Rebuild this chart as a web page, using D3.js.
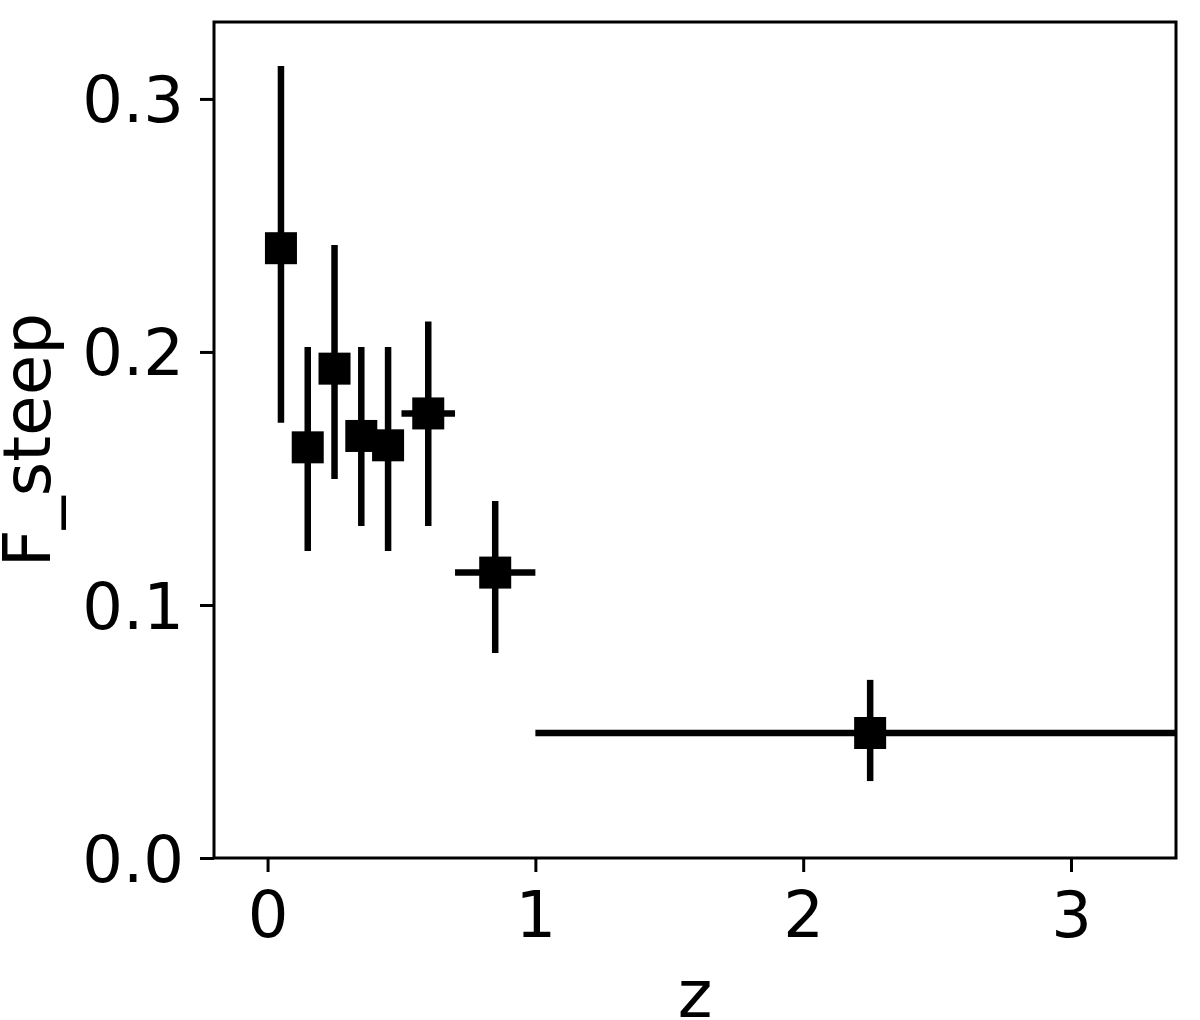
<!DOCTYPE html>
<html>
<head>
<meta charset="utf-8">
<script src="https://cdn.jsdelivr.net/npm/d3@7"></script>
<style>
  html, body { margin: 0; padding: 0; background: #fff; }
  svg { display: block; }
  text { font-family: "DejaVu Sans", sans-serif; fill: #000; }
</style>
</head>
<body>
<svg id="chart" width="1200" height="1020"></svg>
<script>
// ---- data ----
const zValues   = [0.05, 0.15, 0.25, 0.35, 0.45, 0.60, 0.85, 2.25];
const zLow      = [0.05, 0.15, 0.25, 0.35, 0.45, 0.50, 0.70, 1.00];
const zHigh     = [0.05, 0.15, 0.25, 0.35, 0.45, 0.70, 1.00, 3.50];
const fSteep    = [0.241, 0.1623, 0.1934, 0.1668, 0.1631, 0.1757, 0.1128, 0.0494];
const fLow      = [0.172, 0.1213, 0.1498, 0.1312, 0.1213, 0.1312, 0.0810, 0.0304];
const fHigh     = [0.313, 0.2020, 0.2423, 0.2020, 0.2020, 0.2120, 0.1411, 0.0704];
const xTicks    = [0, 1, 2, 3];
const yTicks    = [0.0, 0.1, 0.2, 0.3];
const xLabel    = "z";
const yLabel    = "F_steep";

// ---- layout ----
const svg = d3.select("#chart");
const L = 214, R = 1176, T = 22, B = 858;
const x = d3.scaleLinear().domain([-0.2, 3.392]).range([L, R]);
const y = d3.scaleLinear().domain([0, 0.3304]).range([B, T]);

svg.append("defs").append("clipPath").attr("id", "clip")
  .append("rect").attr("x", L).attr("y", T).attr("width", R - L).attr("height", B - T);

const pts = zValues.map((z, i) => ({z, zl: zLow[i], zh: zHigh[i], f: fSteep[i], fl: fLow[i], fh: fHigh[i]}));

const g = svg.append("g").attr("clip-path", "url(#clip)");
// vertical error bars
g.selectAll("line.ey").data(pts).enter().append("line")
  .attr("x1", d => x(d.z)).attr("x2", d => x(d.z))
  .attr("y1", d => y(d.fl)).attr("y2", d => y(d.fh))
  .attr("stroke", "#000").attr("stroke-width", 6.5);
// horizontal error bars
g.selectAll("line.ex").data(pts.filter(d => d.zh > d.zl)).enter().append("line")
  .attr("x1", d => x(d.zl)).attr("x2", d => x(d.zh))
  .attr("y1", d => y(d.f)).attr("y2", d => y(d.f))
  .attr("stroke", "#000").attr("stroke-width", 6.5);
// square markers
const ms = 32;
g.selectAll("rect.m").data(pts).enter().append("rect")
  .attr("x", d => x(d.z) - ms / 2).attr("y", d => y(d.f) - ms / 2)
  .attr("width", ms).attr("height", ms).attr("fill", "#000");

// axes
const xAxis = d3.axisBottom(x).tickValues(xTicks).tickFormat(d3.format("d"))
  .tickSize(14).tickPadding(20);
const yAxis = d3.axisLeft(y).tickValues(yTicks).tickFormat(d3.format(".1f"))
  .tickSize(14).tickPadding(16);

const gx = svg.append("g").attr("transform", `translate(0,${B})`).call(xAxis);
const gy = svg.append("g").attr("transform", `translate(${L},0)`).call(yAxis);
[gx, gy].forEach(a => {
  a.select(".domain").remove();
  a.selectAll(".tick line").attr("stroke", "#000").attr("stroke-width", 3);
  a.selectAll(".tick text").attr("font-size", 64).attr("font-family", "DejaVu Sans, sans-serif").attr("fill", "#000");
});
gy.selectAll(".tick text").attr("dy", "0.36em");

// frame
svg.append("rect").attr("x", L).attr("y", T).attr("width", R - L).attr("height", B - T)
  .attr("fill", "none").attr("stroke", "#000").attr("stroke-width", 3);

// labels
svg.append("text").attr("x", (L + R) / 2).attr("y", 1017).attr("text-anchor", "middle")
  .attr("font-size", 66).text(xLabel);
svg.append("text").attr("transform", `translate(50,${(T + B) / 2}) rotate(-90)`)
  .attr("text-anchor", "middle").attr("font-size", 66).text(yLabel);
</script>
</body>
</html>
